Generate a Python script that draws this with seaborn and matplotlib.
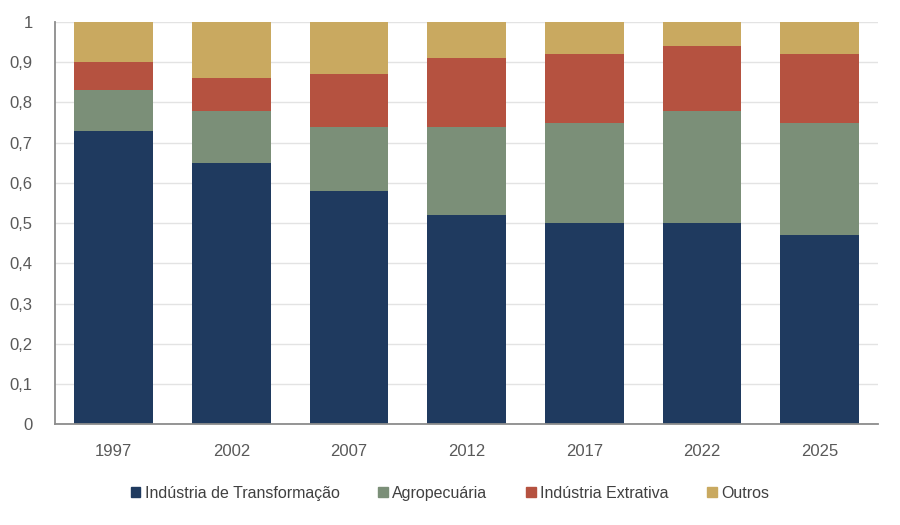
import matplotlib
matplotlib.use("Agg")
import matplotlib.pyplot as plt
import matplotlib.patches as mpatches
import numpy as np
import pandas as pd
import seaborn as sns

years = ["1997", "2002", "2007", "2012", "2017", "2022", "2025"]
transformacao = [0.73, 0.65, 0.58, 0.52, 0.50, 0.50, 0.47]
agropecuaria = [0.10, 0.13, 0.16, 0.22, 0.25, 0.28, 0.28]
extrativa = [0.07, 0.08, 0.13, 0.17, 0.17, 0.16, 0.17]
outros = [0.10, 0.14, 0.13, 0.09, 0.08, 0.06, 0.08]

series_names = ["Indústria de Transformação", "Agropecuária", "Indústria Extrativa", "Outros"]
colors = ["#1f3a5f", "#7b8f78", "#b55240", "#c9a960"]

sns.set_style("white")
plt.rcParams["font.family"] = ["Liberation Sans", "DejaVu Sans"]

df = pd.DataFrame({
    "Ano": years,
    series_names[0]: transformacao,
    series_names[1]: agropecuaria,
    series_names[2]: extrativa,
    series_names[3]: outros,
})
cum = df[series_names].cumsum(axis=1)
cum["Ano"] = df["Ano"]

fig = plt.figure(figsize=(9, 5.25), dpi=100)
ax = fig.add_axes([0.061, 0.192, 0.915, 0.766])

# draw from the top layer down so each shorter bar covers the one behind
for name, color in reversed(list(zip(series_names, colors))):
    sns.barplot(data=cum, x="Ano", y=name, color=color, width=0.67,
                saturation=1, linewidth=0, ax=ax, zorder=2)

ax.set_ylim(0, 1)
ax.set_xlim(-0.5, 6.5)
ax.set_yticks(np.arange(0, 1.01, 0.1))
ax.set_yticklabels(["0"] + [f"{v:.1f}".replace(".", ",") for v in np.arange(0.1, 0.95, 0.1)] + ["1"])
ax.grid(axis="y", color="#e3e3e3", linewidth=1, zorder=0)
ax.set_axisbelow(True)
ax.set_xlabel("")
ax.set_ylabel("")
for s in ["top", "right"]:
    ax.spines[s].set_visible(False)
ax.spines["left"].set_color("#8c8c8c")
ax.spines["bottom"].set_color("#8c8c8c")
ax.spines["left"].set_linewidth(1.3)
ax.spines["bottom"].set_linewidth(1.3)
ax.tick_params(axis="x", length=0, pad=14, labelsize=12, labelcolor="#595959")
ax.tick_params(axis="y", length=0, pad=16, labelsize=12, labelcolor="#595959")

handles = [mpatches.Patch(color=c, label=n) for n, c in zip(series_names, colors)]
fig.legend(handles=handles, loc="center", bbox_to_anchor=(0.5, 0.06), ncol=4,
           frameon=False, fontsize=11.5, handlelength=0.6, handleheight=0.6,
           handletextpad=0.3, columnspacing=2.4, labelcolor="#404040")

fig.savefig("out.png", dpi=100)
